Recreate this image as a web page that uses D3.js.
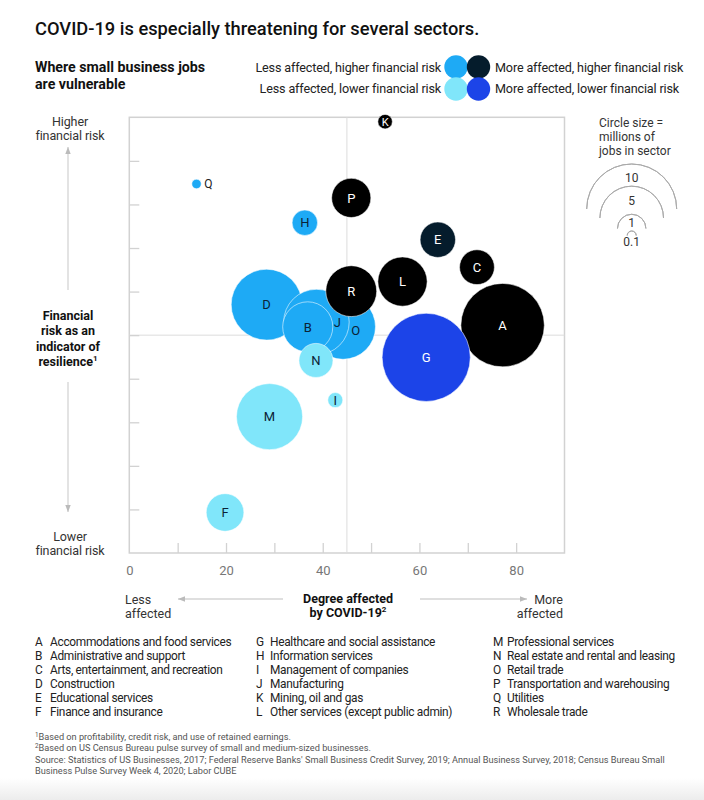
<!DOCTYPE html>
<html><head><meta charset="utf-8">
<script src="https://cdn.jsdelivr.net/npm/d3@7"></script>
<style>
html,body{margin:0;padding:0;background:#fff;}
svg text{font-family:Roboto,"Liberation Sans",Arial,sans-serif;}
</style></head>
<body>
<svg id="chart" width="704" height="800"></svg>
<script>
// ---------- data ----------
const letters = ["A","B","C","D","E","F","G","H","I","J","K","L","M","N","O","P","Q","R"];
const sectors = ["Accommodations and food services","Administrative and support","Arts, entertainment, and recreation","Construction","Educational services","Finance and insurance","Healthcare and social assistance","Information services","Management of companies","Manufacturing","Mining, oil and gas","Other services (except public admin)","Professional services","Real estate and rental and leasing","Retail trade","Transportation and warehousing","Utilities","Wholesale trade"];
const affected = [77.2,36.9,71.9,28.4,63.8,19.8,61.4,36.3,42.6,38.7,52.9,56.5,29.0,38.6,44.2,45.9,13.9,45.9];
const risk     = [52.3,51.9,65.6,57.0,71.9,9.3,44.9,75.8,35.1,53.0,99.0,62.3,31.3,44.2,51.9,81.5,84.7,60.1];
const jobs     = [8.6,3.1,1.5,6.2,1.55,1.75,9.6,0.8,0.28,5.3,0.26,3.0,5.4,1.43,5.2,1.9,0.11,3.2];
const xTickLabels = [0,20,40,60,80];
const sizeLegend = [10,5,1,0.1];
const quadrantLabels = ["Less affected, higher financial risk","More affected, higher financial risk","Less affected, lower financial risk","More affected, lower financial risk"];

// ---------- style / layout ----------
const colLessHigh="#1eaaf5", colMoreHigh="#000000", colLessLow="#80e6fa", colMoreLow="#1c44e8", colNavy="#051c2c";
const colorOverride = {E: colNavy};
const drawOrder = ["A","G","O","D","J","B","R","N","M","F","L","P","E","C","H","I","K","Q"];
const labelOffset = {J:[21,0], O:[12.6,3.6]};
const xMid = 45, yMid = 50;

const svg = d3.select("#chart");
const x = d3.scaleLinear().domain([0,90]).range([129.3,564.5]);
const y = d3.scaleLinear().domain([0,100]).range([553,117.3]);
const r = d3.scaleSqrt().domain([0,10]).range([0,45]);

const data = letters.map((l,i)=>({l, name:sectors[i], x:affected[i], y:risk[i], v:jobs[i]}));
function colorOf(d){
  if(colorOverride[d.l]) return colorOverride[d.l];
  const more = d.x>xMid, high = d.y>yMid;
  return more ? (high?colMoreHigh:colMoreLow) : (high?colLessHigh:colLessLow);
}
function isLight(d){ const c=colorOf(d); return c===colLessHigh||c===colLessLow; }

// bottom fade
const defs = svg.append("defs");
const gr = defs.append("linearGradient").attr("id","fade").attr("x1",0).attr("y1",0).attr("x2",0).attr("y2",1);
gr.append("stop").attr("offset","0").attr("stop-color","#fff");
gr.append("stop").attr("offset","1").attr("stop-color","#ececec");
svg.append("rect").attr("x",0).attr("y",778).attr("width",704).attr("height",22).attr("fill","url(#fade)");

// title
svg.append("text").attr("x",35).attr("y",35).attr("font-size",18.3).attr("font-weight",500).attr("fill","#111")
  .text("COVID-19 is especially threatening for several sectors.");
svg.append("text").attr("x",35).attr("y",72).attr("font-size",14.2).attr("font-weight",700).attr("fill","#111")
  .text("Where small business jobs");
svg.append("text").attr("x",35).attr("y",89).attr("font-size",14.2).attr("font-weight",700).attr("fill","#111")
  .text("are vulnerable");

// quadrant legend
const lgCols=[colLessHigh,colNavy,colLessLow,colMoreLow];
[[456,67],[478.5,67],[456,89],[478.5,89]].forEach((p,i)=>{
  svg.append("circle").attr("cx",p[0]).attr("cy",p[1]).attr("r",11.7).attr("fill",lgCols[i]);
});
const lgT = svg.append("g").attr("font-size",12.6).attr("letter-spacing",-0.15).attr("fill","#222");
lgT.append("text").attr("x",441).attr("y",72).attr("text-anchor","end").text(quadrantLabels[0]);
lgT.append("text").attr("x",495).attr("y",72).text(quadrantLabels[1]);
lgT.append("text").attr("x",441).attr("y",93).attr("text-anchor","end").text(quadrantLabels[2]);
lgT.append("text").attr("x",495).attr("y",93).text(quadrantLabels[3]);

// frame + ticks
const frameCol="#d2d2d2";
svg.append("rect").attr("x",x(0)).attr("y",y(100)).attr("width",x(90)-x(0)).attr("height",y(0)-y(100))
  .attr("fill","none").attr("stroke",frameCol).attr("stroke-width",1.5);
svg.append("line").attr("x1",x(xMid)).attr("x2",x(xMid)).attr("y1",y(100)).attr("y2",y(0)).attr("stroke","#dcdcdc").attr("stroke-width",1);
svg.append("line").attr("x1",x(0)).attr("x2",x(90)).attr("y1",y(yMid)).attr("y2",y(yMid)).attr("stroke","#dcdcdc").attr("stroke-width",1);

const yAxis = d3.axisRight(y).tickValues(d3.range(10,100,10)).tickSize(10).tickFormat("");
const ga = svg.append("g").attr("transform",`translate(${x(0)},0)`).call(yAxis);
ga.select(".domain").remove(); ga.selectAll("line").attr("stroke",frameCol).attr("stroke-width",1.3);
const xAxis = d3.axisTop(x).tickValues([10,20,30,40,50,60,70,80]).tickSize(10).tickFormat("");
const gb = svg.append("g").attr("transform",`translate(0,${y(0)})`).call(xAxis);
gb.select(".domain").remove(); gb.selectAll("line").attr("stroke",frameCol).attr("stroke-width",1.3);

const xLab = d3.axisBottom(x).tickValues(xTickLabels).tickSize(0).tickPadding(0);
const gc = svg.append("g").attr("transform",`translate(0,575)`).call(xLab);
gc.select(".domain").remove();
gc.selectAll("text").attr("font-size",13).attr("fill","#777").attr("font-family","Roboto, sans-serif").attr("dy",0);

// circles
const byL = Object.fromEntries(data.map(d=>[d.l,d]));
const ordered = drawOrder.map(l=>byL[l]);
const g = svg.append("g");
g.selectAll("circle").data(ordered).join("circle")
  .attr("cx",d=>x(d.x)).attr("cy",d=>y(d.y)).attr("r",d=>r(d.v))
  .attr("fill",colorOf).attr("stroke","#fff").attr("stroke-opacity",0.55).attr("stroke-width",1);
g.selectAll("text.lab").data(ordered.filter(d=>d.l!=="Q")).join("text").attr("class","lab")
  .attr("x",d=>x(d.x)+(labelOffset[d.l]?labelOffset[d.l][0]:0))
  .attr("y",d=>y(d.y)+(labelOffset[d.l]?labelOffset[d.l][1]:0))
  .attr("dy","0.36em").attr("text-anchor","middle").attr("font-size",d=>d.l==="K"?11:13)
  .attr("fill",d=>isLight(d)?"#0b2236":"#fff").text(d=>d.l);
const q = byL["Q"];
svg.append("text").attr("x",x(q.x)+r(q.v)+3).attr("y",y(q.y)).attr("dy","0.36em").attr("font-size",12).attr("fill","#222").text("Q");

// size legend
const sl = svg.append("g").attr("font-size",12).attr("fill","#333");
sl.append("text").attr("x",599).attr("y",127).text("Circle size =");
sl.append("text").attr("x",599).attr("y",141).text("millions of");
sl.append("text").attr("x",599).attr("y",155).text("jobs in sector");
const lcx = 631.7;
const legCy = {10:209, 5:218, 1:228.5, 0.1:235.5};
const legTy = {10:181.5, 5:204.5, 1:226.5, 0.1:246};
const arc = d3.arc().startAngle(-Math.PI/2).endAngle(Math.PI/2);
sizeLegend.forEach(v=>{
  svg.append("path").attr("d",arc({innerRadius:r(v),outerRadius:r(v)}))
    .attr("transform",`translate(${lcx},${legCy[v]})`).attr("fill","none").attr("stroke","#aaa").attr("stroke-width",1);
  sl.append("text").attr("x",lcx).attr("y",legTy[v]).attr("text-anchor","middle").text(v);
});

// arrows
defs.append("marker").attr("id","ah").attr("viewBox","0 0 10 10").attr("refX",9).attr("refY",5)
  .attr("markerWidth",6).attr("markerHeight",6).attr("orient","auto")
  .append("path").attr("d","M0,1.5L9,5L0,8.5Z").attr("fill","#bbb");
function arrow(x1,y1,x2,y2){ svg.append("line").attr("x1",x1).attr("y1",y1).attr("x2",x2).attr("y2",y2)
  .attr("stroke","#d4d4d4").attr("stroke-width",1.3).attr("marker-end","url(#ah)"); }
arrow(68,290,68,147);
arrow(68,382,68,512);
arrow(283,599,178,599);
arrow(420,599,527,599);

// axis description labels
function lines(arr,xp,y0,dy,opts){
  arr.forEach((t,i)=>{ const tx=svg.append("text").attr("x",xp).attr("y",y0+i*dy).attr("text-anchor",opts.anchor||"middle")
    .attr("font-size",opts.size||12.5).attr("font-weight",opts.weight||400).attr("fill",opts.fill||"#333")
    .attr("letter-spacing",opts.ls||0);
    if(Array.isArray(t)){ tx.text(t[0]); tx.append("tspan").attr("font-size",8).attr("dy",-5).text(t[1]); } else tx.text(t); });
}
lines(["Higher","financial risk"],70,126,14,{ls:-0.1});
lines(["Financial","risk as an","indicator of",["resilience","1"]],68,320,15.3,{weight:700,fill:"#111"});
lines(["Lower","financial risk"],70,541,14,{ls:-0.1});
lines(["Less","affected"],125,604,14,{anchor:"start"});
lines(["Degree affected",["by COVID-19","2"]],348,603,14,{weight:700,fill:"#111"});
lines(["More","affected"],563,604,14,{anchor:"end"});

// sector key
const colX = [[35,50],[256,270],[493,507]];
const key = svg.append("g").attr("font-size",11.9).attr("letter-spacing",-0.3).attr("fill","#222");
data.forEach((d,i)=>{
  const c = Math.floor(i/6), rI = i%6;
  const yy = 646 + rI*14;
  key.append("text").attr("x",colX[c][0]).attr("y",yy).text(d.l);
  key.append("text").attr("x",colX[c][1]).attr("y",yy).text(d.name);
});

// footnotes
const fn = svg.append("g").attr("font-size",9.2).attr("fill","#555");
const f1 = fn.append("text").attr("x",35).attr("y",740);
f1.append("tspan").attr("font-size",6.3).attr("dy",-3).text("1");
f1.append("tspan").attr("dy",3).text("Based on profitability, credit risk, and use of retained earnings.");
const f2 = fn.append("text").attr("x",35).attr("y",751);
f2.append("tspan").attr("font-size",6.3).attr("dy",-3).text("2");
f2.append("tspan").attr("dy",3).text("Based on US Census Bureau pulse survey of small and medium-sized businesses.");
fn.append("text").attr("x",35).attr("y",763).text("Source: Statistics of US Businesses, 2017; Federal Reserve Banks' Small Business Credit Survey, 2019; Annual Business Survey, 2018; Census Bureau Small");
fn.append("text").attr("x",35).attr("y",774).text("Business Pulse Survey Week 4, 2020; Labor CUBE");
</script>
</body></html>
